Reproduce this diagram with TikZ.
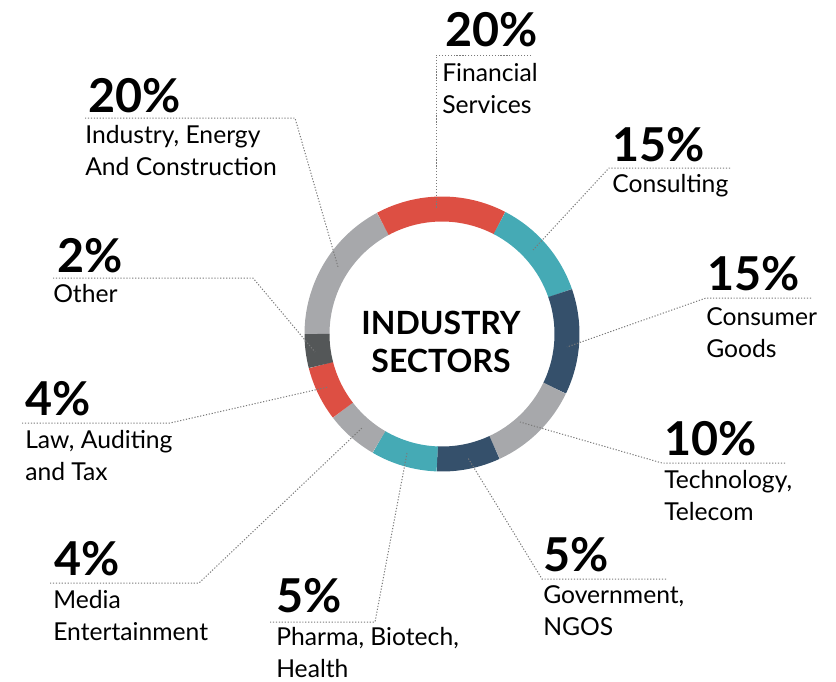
\documentclass[tikz,border=0pt]{standalone}
\usepackage{fontspec}
\setmainfont{Lato}
\definecolor{segred}{HTML}{DD4F43}
\definecolor{segteal}{HTML}{45AAB5}
\definecolor{segnavy}{HTML}{35506B}
\definecolor{seggrey}{HTML}{A7A8AB}
\definecolor{segdark}{HTML}{545758}
\definecolor{leadgrey}{HTML}{7A7A7A}
\tikzset{
  leader/.style={draw=leadgrey, line width=0.75pt, dash pattern=on 0.9pt off 1.3pt},
  pct/.style={anchor=base west, inner sep=0pt, font=\fontsize{35}{40}\selectfont\bfseries},
  sector/.style={anchor=base west, inner sep=0pt, align=left, font=\fontsize{18.5}{24}\selectfont},
}
\begin{document}
\begin{tikzpicture}[x=0.75pt,y=-0.75pt]
            \useasboundingbox (0,0) rectangle (836,682);
            \coordinate (c) at (442,334);

            % Drawing ring segments
            \foreach \from/\to/\col in {-180/-118.2/seggrey, -118.2/-62.6/segred, -62.6/-19.1/segteal, -19.1/25.7/segnavy, 25.7/65.2/seggrey, 65.2/92.2/segnavy, 92.2/120.3/segteal, 120.3/142.5/seggrey, 142.5/165.6/segred, 165.6/180/segdark}
              \draw [\col, line width=18.75pt] (c) ++(\from:125) arc [start angle=\from, end angle=\to, radius=125];%

            % Marking title (anchored at the last line)
            \node (title) at (441,372.7) [anchor=base, inner sep=0pt, align=center, font=\fontsize{24}{28.3}\selectfont\bfseries] {INDUSTRY\\SECTORS};%

            % Marking sector Industry, Energy And Construction
            \node [pct] (indpct) at (88,112) {20\%};%
            \node [sector] (indlbl) at (85,175) {Industry, Energy\\And Construction};%
            \coordinate (indend) at (85,118);
            \coordinate (indcor) at (295,118);
            \coordinate (indring) at (338,267);
            \draw [leader] (indend) -- (indcor) -- (indring);%

            % Marking sector Financial Services
            \node [pct] (finpct) at (445,46) {20\%};%
            \node [sector] (finlbl) at (442,113) {Financial\\Services};%
            \coordinate (finend) at (531,55);
            \coordinate (fincor) at (436,55);
            \coordinate (finring) at (436,208);
            \draw [leader] (finend) -- (fincor) -- (finring);%

            % Marking sector Consulting
            \node [pct] (conpct) at (612,161) {15\%};%
            \node [sector] (conlbl) at (612,192) {Consulting};%
            \coordinate (conend) at (730,168);
            \coordinate (concor) at (609,168);
            \coordinate (conring) at (533,250);
            \draw [leader] (conend) -- (concor) -- (conring);%

            % Marking sector Consumer Goods
            \node [pct] (cgpct) at (707,290) {15\%};%
            \node [sector] (cglbl) at (706,357) {Consumer\\Goods};%
            \coordinate (cgend) at (811,298);
            \coordinate (cgcor) at (706,298);
            \coordinate (cgring) at (567,347);
            \draw [leader] (cgend) -- (cgcor) -- (cgring);%

            % Marking sector Technology, Telecom
            \node [pct] (techpct) at (664,455) {10\%};%
            \node [sector] (techlbl) at (664,520) {Technology,\\Telecom};%
            \coordinate (techend) at (785,463);
            \coordinate (techcor) at (662,463);
            \coordinate (techring) at (520,422);
            \draw [leader] (techend) -- (techcor) -- (techring);%

            % Marking sector Government, NGOS
            \node [pct] (govpct) at (543,571) {5\%};%
            \node [sector] (govlbl) at (543,635) {Government,\\NGOS};%
            \coordinate (govend) at (666,579);
            \coordinate (govcor) at (542,579);
            \coordinate (govring) at (468,458);
            \draw [leader] (govend) -- (govcor) -- (govring);%

            % Marking sector Pharma, Biotech, Health
            \node [pct] (phpct) at (276,612) {5\%};%
            \node [sector] (phlbl) at (276,677) {Pharma, Biotech,\\Health};%
            \coordinate (phend) at (270,622);
            \coordinate (phcor) at (375,622);
            \coordinate (phring) at (407,453);
            \draw [leader] (phend) -- (phcor) -- (phring);%

            % Marking sector Media Entertainment
            \node [pct] (medpct) at (54,575) {4\%};%
            \node [sector] (medlbl) at (53,640) {Media\\Entertainment};%
            \coordinate (medend) at (50,583);
            \coordinate (medcor) at (199,583);
            \coordinate (medring) at (363,427);
            \draw [leader] (medend) -- (medcor) -- (medring);%

            % Marking sector Law, Auditing and Tax
            \node [pct] (lawpct) at (25,415) {4\%};%
            \node [sector] (lawlbl) at (25,480) {Law, Auditing\\and Tax};%
            \coordinate (lawend) at (22,423);
            \coordinate (lawcor) at (170,423);
            \coordinate (lawring) at (328,387);
            \draw [leader] (lawend) -- (lawcor) -- (lawring);%

            % Marking sector Other
            \node [pct] (othpct) at (57,272) {2\%};%
            \node [sector] (othlbl) at (53,302) {Other};%
            \coordinate (othend) at (53,278);
            \coordinate (othcor) at (253,278);
            \coordinate (othring) at (315,352);
            \draw [leader] (othend) -- (othcor) -- (othring);%
\end{tikzpicture}
\end{document}
